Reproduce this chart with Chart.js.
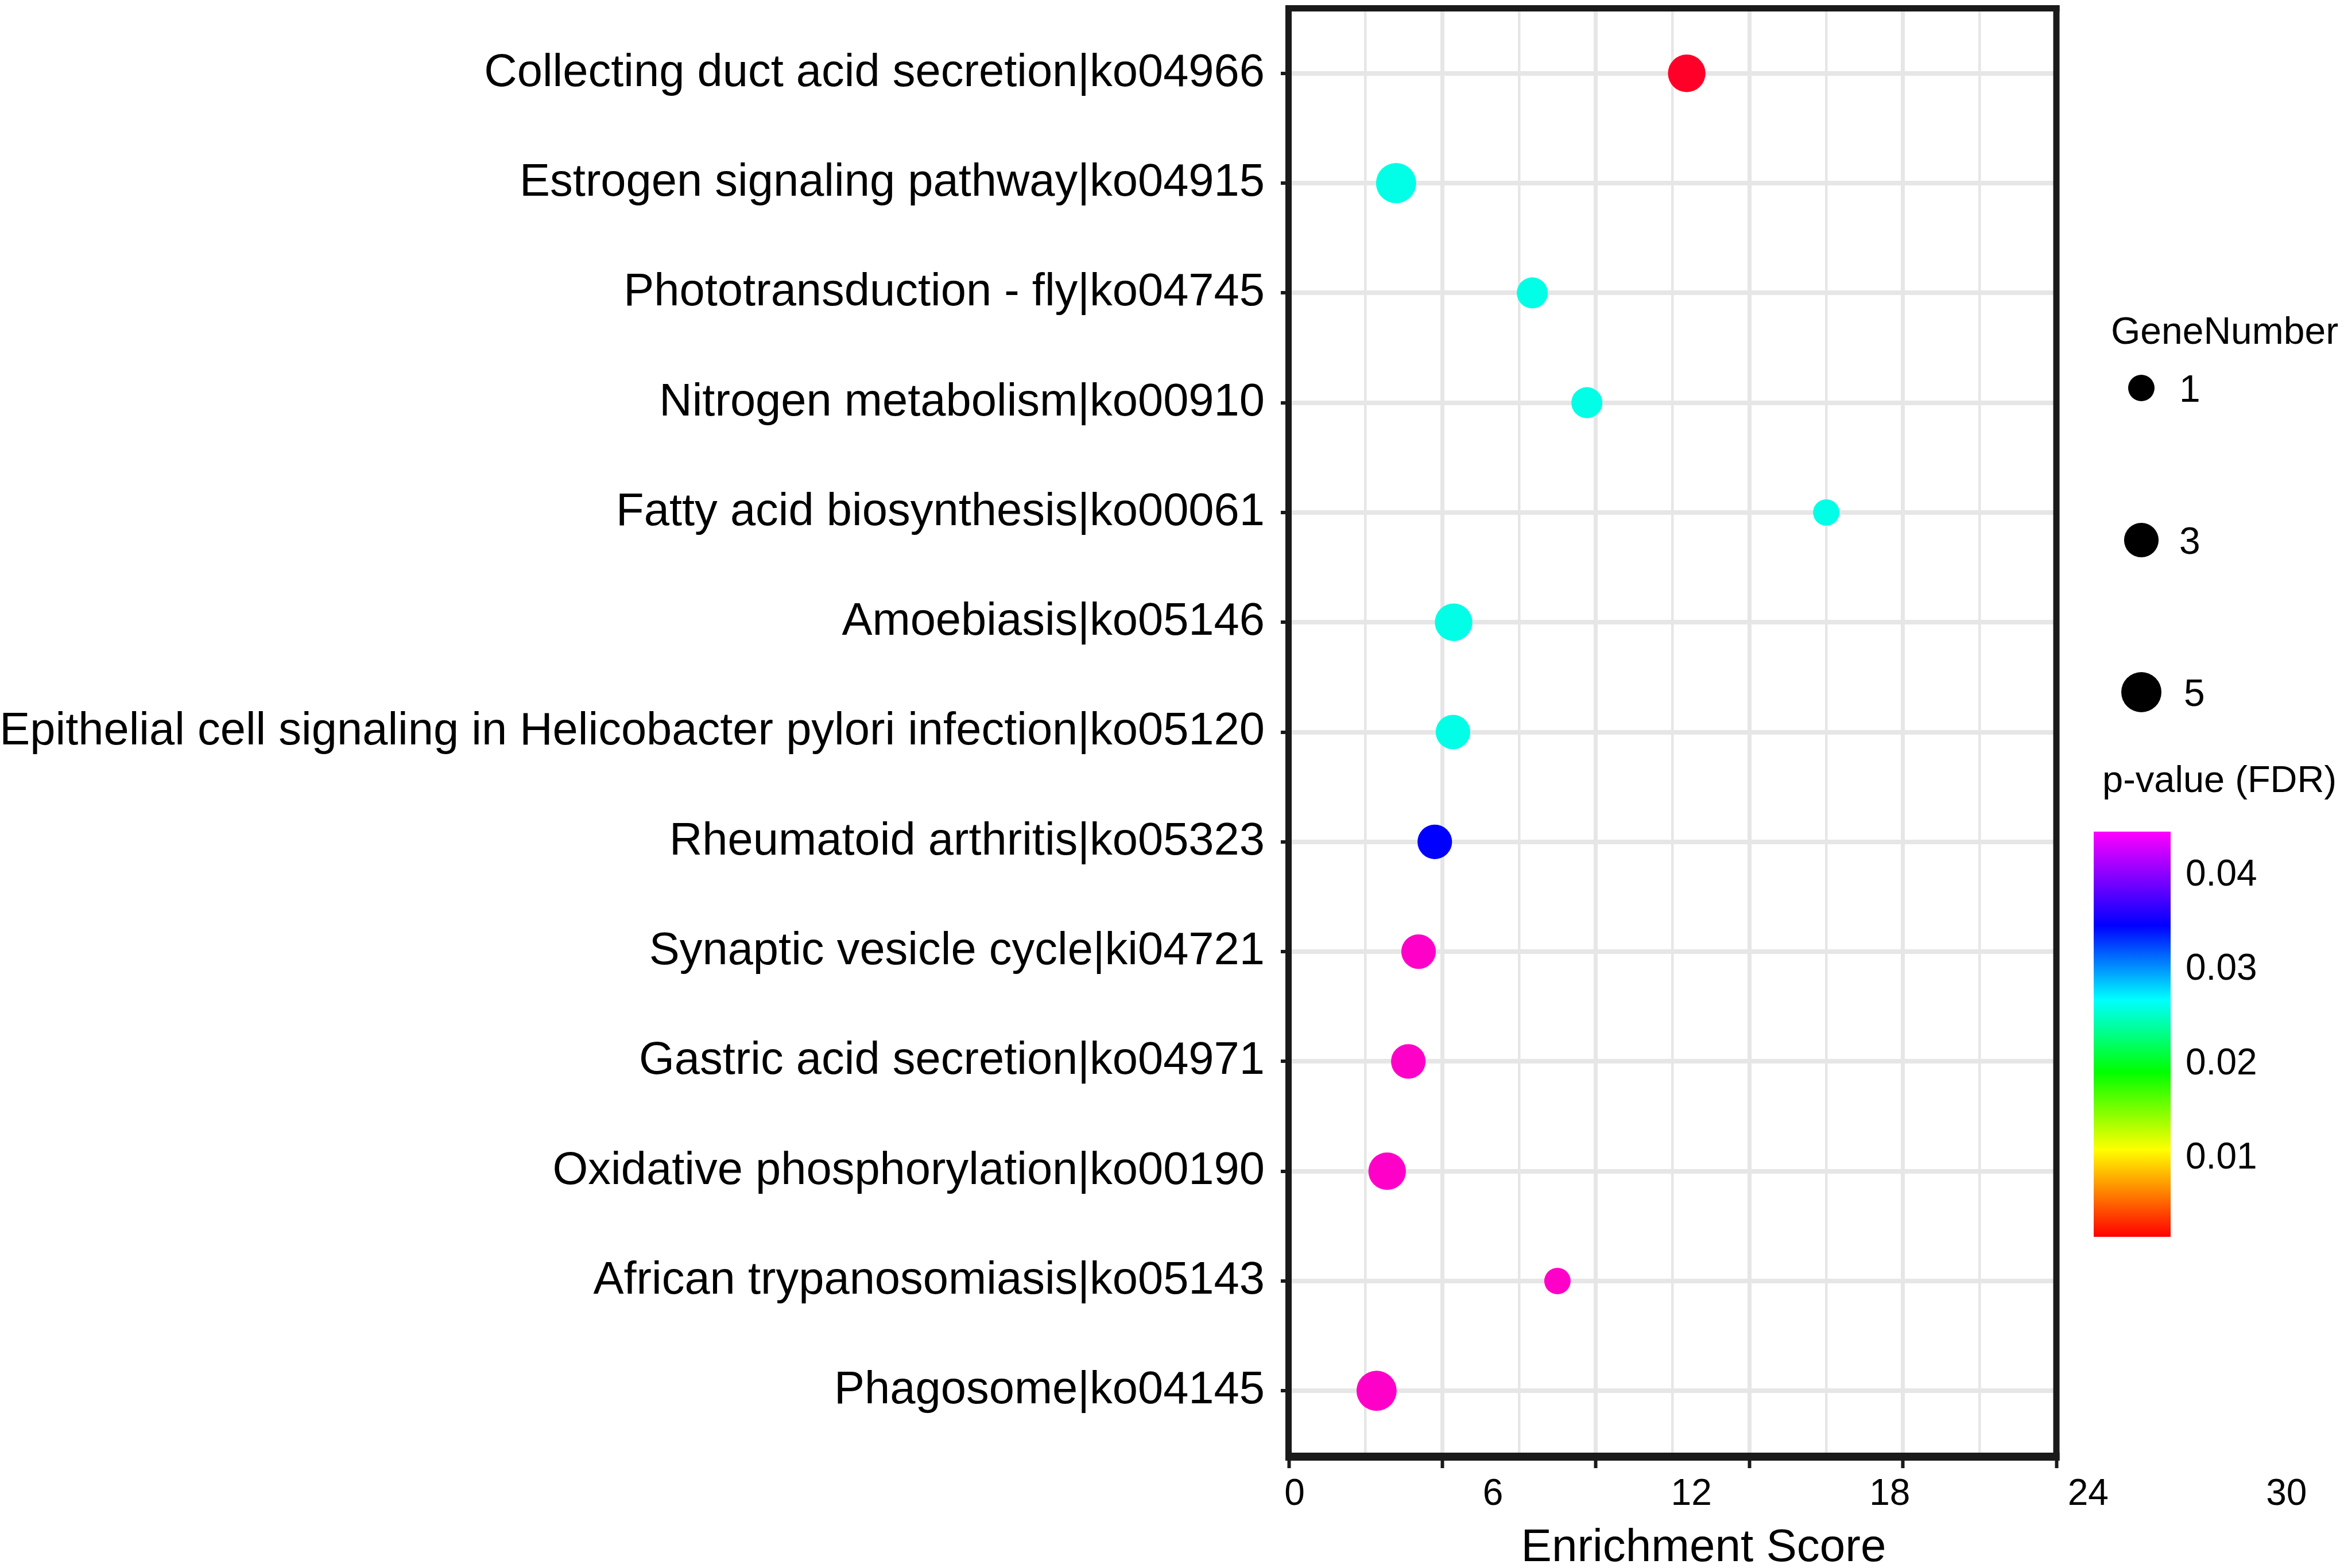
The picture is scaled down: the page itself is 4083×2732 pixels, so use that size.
<!DOCTYPE html>
<html><head><meta charset="utf-8">
<script src="https://cdn.jsdelivr.net/npm/chart.js@4"></script>
<style>html,body{margin:0;padding:0;background:#fff;}canvas{display:block;}</style>
</head><body>
<canvas id="c" width="4083" height="2732" style="width:4083px;height:2732px"></canvas>
<script>
// ---------------- data ----------------
const categories = [
  "Collecting duct acid secretion|ko04966",
  "Estrogen signaling pathway|ko04915",
  "Phototransduction - fly|ko04745",
  "Nitrogen metabolism|ko00910",
  "Fatty acid biosynthesis|ko00061",
  "Amoebiasis|ko05146",
  "Epithelial cell signaling in Helicobacter pylori infection|ko05120",
  "Rheumatoid arthritis|ko05323",
  "Synaptic vesicle cycle|ki04721",
  "Gastric acid secretion|ko04971",
  "Oxidative phosphorylation|ko00190",
  "African trypanosomiasis|ko05143",
  "Phagosome|ko04145"
];
const enrichmentScore = [11.86, 3.07, 7.19, 8.84, 16.08, 4.81, 4.79, 4.24, 3.75, 3.44, 2.80, 7.95, 2.48];
const geneNumber = [4, 5, 2, 2, 1, 4, 3, 3, 3, 3, 4, 1, 5];
const pValue = [0.002, 0.028, 0.028, 0.028, 0.028, 0.028, 0.028, 0.035, 0.044, 0.044, 0.044, 0.044, 0.044];
const xTickLabels = [0, 6, 12, 18, 24, 30];
const sizeLegendValues = [1, 3, 5];
const pLegendTicks = [0.01, 0.02, 0.03, 0.04];

// ---------------- style ----------------
const FONT = "'Liberation Sans', Arial, Helvetica, sans-serif";
const TEXT = '#000000';
const GRID = '#e6e6e6';
const X_MIN = -0.174, X_MAX = 23.04, GRID_DIV = 10;
const CB_MIN = 0.0014, CB_MAX = 0.0443;
function radiusOf(n) { return 13.3 + 9.7 * Math.sqrt(n); }
const pointStops = [
  [0.002, [255, 0, 40]],
  [0.028, [0, 255, 230]],
  [0.035, [0, 0, 255]],
  [0.044, [255, 0, 200]]
];
function colorOf(p) {
  if (p <= pointStops[0][0]) return 'rgb(' + pointStops[0][1].join(',') + ')';
  for (let i = 1; i < pointStops.length; i++) {
    if (p <= pointStops[i][0]) {
      const [p0, c0] = pointStops[i - 1], [p1, c1] = pointStops[i];
      const t = (p - p0) / (p1 - p0);
      return 'rgb(' + c0.map((v, k) => Math.round(v + (c1[k] - v) * t)).join(',') + ')';
    }
  }
  return 'rgb(' + pointStops[pointStops.length - 1][1].join(',') + ')';
}
const barStops = [
  [0.0, '#ff00ff'], [0.232, '#0000ff'], [0.415, '#00ffff'],
  [0.593, '#00ff00'], [0.785, '#ffff00'], [1.0, '#ff0000']
];

const decorPlugin = {
  id: 'decor',
  afterDatasetsDraw(chart) {
    const { ctx, chartArea: a } = chart;
    ctx.save();
    ctx.fillStyle = '#1a1a1a';
    const w = a.right - a.left, h = a.bottom - a.top;
    ctx.fillRect(a.left - 5.5, a.top - 4, w + 11, 11);
    ctx.fillRect(a.left - 5.5, a.bottom - 7, w + 11, 14);
    ctx.fillRect(a.left - 6, a.top - 4, 11, h + 11);
    ctx.fillRect(a.right - 5.5, a.top - 4, 11, h + 11);
    ctx.restore();
  },
  afterDraw(chart) {
    const { ctx, chartArea: a } = chart;
    const xs = chart.scales.x;
    ctx.save();
    ctx.fillStyle = TEXT;
    // x tick labels
    ctx.font = '64px ' + FONT;
    ctx.textAlign = 'center';
    ctx.textBaseline = 'alphabetic';
    xTickLabels.forEach(v => ctx.fillText(String(v), xs.getPixelForValue(v), a.bottom + 84));
    // x title
    ctx.font = '80px ' + FONT;
    ctx.fillText('Enrichment Score', (a.left + a.right) / 2 + 54, a.bottom + 182);

    // size legend
    const R = a.right;
    ctx.textAlign = 'left';
    ctx.font = '66px ' + FONT;
    ctx.fillText('GeneNumber', R + 95, 599);
    const dotY = [676, 941, 1206];
    sizeLegendValues.forEach((n, i) => {
      ctx.fillStyle = '#000';
      ctx.beginPath();
      ctx.arc(R + 148, dotY[i], radiusOf(n), 0, Math.PI * 2);
      ctx.fill();
      ctx.fillStyle = TEXT;
      ctx.fillText(String(n), R + 214 + (i === 2 ? 8 : 0), dotY[i] + 24);
    });

    // colour bar legend
    ctx.font = '65px ' + FONT;
    ctx.fillText('p-value (FDR)', R + 80, 1380);
    const cbL = R + 65, cbR = R + 199, cbT = 1449, cbB = 2155;
    const g = ctx.createLinearGradient(0, cbT, 0, cbB);
    barStops.forEach(([o, c]) => g.addColorStop(o, c));
    ctx.fillStyle = g;
    ctx.fillRect(cbL, cbT, cbR - cbL, cbB - cbT);
    ctx.fillStyle = TEXT;
    ctx.font = '64px ' + FONT;
    pLegendTicks.forEach(p => {
      const y = cbB - (p - CB_MIN) / (CB_MAX - CB_MIN) * (cbB - cbT);
      ctx.fillText(p.toFixed(2), R + 225, y + 23);
    });
    ctx.restore();
  }
};

new Chart(document.getElementById('c'), {
  type: 'scatter',
  data: {
    datasets: [{
      data: enrichmentScore.map((v, i) => ({ x: v, y: i })),
      pointRadius: ctx => radiusOf(geneNumber[ctx.dataIndex]),
      pointBackgroundColor: ctx => colorOf(pValue[ctx.dataIndex]),
      pointBorderWidth: 0,
      pointBorderColor: 'rgba(0,0,0,0)',
      pointHoverRadius: ctx => radiusOf(geneNumber[ctx.dataIndex])
    }]
  },
  plugins: [decorPlugin],
  options: {
    responsive: false,
    devicePixelRatio: 1,
    animation: false,
    events: [],
    layout: { autoPadding: false, padding: { left: 0, right: 501, top: 13, bottom: 0 } },
    plugins: { legend: { display: false }, tooltip: { enabled: false } },
    scales: {
      x: {
        type: 'linear',
        min: X_MIN, max: X_MAX,
        afterBuildTicks: s => {
          s.ticks = Array.from({ length: GRID_DIV + 1 }, (_, i) => ({ value: X_MIN + i * (X_MAX - X_MIN) / GRID_DIV }));
        },
        afterFit: s => { s.height = 194; s.paddingLeft = 0; s.paddingRight = 0; },
        ticks: { display: false },
        border: { display: false },
        grid: {
          color: GRID,
          lineWidth: c => (c.index % 2 === 0 ? 7 : 4.5),
          drawTicks: true,
          tickLength: 20,
          tickWidth: 6,
          tickColor: c => (c.index % 2 === 0 ? '#1a1a1a' : 'rgba(0,0,0,0)')
        }
      },
      y: {
        type: 'linear',
        min: -0.6, max: 12.6,
        reverse: true,
        afterBuildTicks: s => { s.ticks = categories.map((_, i) => ({ value: i })); },
        afterFit: s => { s.width = 2245; s.paddingTop = 0; s.paddingBottom = 0; },
        border: { display: false },
        grid: {
          color: GRID,
          lineWidth: 8,
          drawTicks: true,
          tickLength: 14,
          tickWidth: 6,
          tickColor: '#1a1a1a'
        },
        ticks: {
          autoSkip: false,
          padding: 28,
          color: TEXT,
          font: { family: FONT, size: 79.5 },
          callback: v => categories[v]
        }
      }
    }
  }
});
</script>
</body></html>
